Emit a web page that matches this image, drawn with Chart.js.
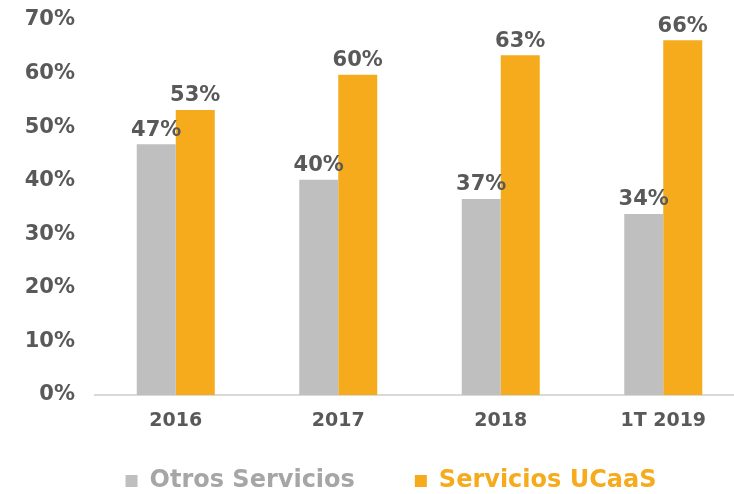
<!DOCTYPE html>
<html>
<head>
<meta charset="utf-8">
<script src="https://cdn.jsdelivr.net/npm/chart.js@4.4.1/dist/chart.umd.min.js"></script>
<style>
  html, body { margin: 0; padding: 0; background: #fff; overflow: hidden; }
  canvas { display: block; }
</style>
</head>
<body>
<canvas id="myChart" width="782" height="494"></canvas>
<script>
// data
const categories = ['2016', '2017', '2018', '1T 2019'];
const otros = [46.8, 40.2, 36.6, 33.8];
const ucaas = [53.2, 59.8, 63.4, 66.2];
const yTicks = [0, 10, 20, 30, 40, 50, 60, 70];

const GREY = '#BFBFBF';
const ORANGE = '#F5AB1C';
const TEXT = '#595959';
const FONT = "'DejaVu Sans', Verdana, sans-serif";

// value labels above the bars + legend nudge
const barLabels = {
  id: 'barLabels',
  afterLayout(chart) {
    // legend sits a bit higher than the layout puts it, x labels need room
    const lg = chart.legend;
    if (lg) {
      const h = lg.bottom - lg.top;
      lg.top = 409;
      lg.bottom = 409 + h;
    }
    chart.scales.x.bottom = 445;
  },
  afterDatasetsDraw(chart) {
    const ctx = chart.ctx;
    ctx.save();
    ctx.font = 'bold 21px ' + FONT;
    ctx.fillStyle = TEXT;
    ctx.textAlign = 'center';
    ctx.textBaseline = 'middle';
    chart.data.datasets.forEach((ds, i) => {
      chart.getDatasetMeta(i).data.forEach((bar, j) => {
        ctx.fillText(Math.round(ds.data[j]) + '%', bar.x, bar.y - 14);
      });
    });
    ctx.restore();
  }
};

const ctx = document.getElementById('myChart');
const myChart = new Chart(ctx, {
  type: 'bar',
  data: {
    labels: categories,
    datasets: [
      { label: 'Otros Servicios', data: otros, backgroundColor: GREY, legendText: '#A6A6A6' },
      { label: 'Servicios UCaaS', data: ucaas, backgroundColor: ORANGE, legendText: ORANGE }
    ]
  },
  options: {
    responsive: false,
    animation: false,
    devicePixelRatio: 1,
    layout: { padding: { left: 0, right: 0, top: 20, bottom: 0 } },
    datasets: {
      bar: { categoryPercentage: 0.48, barPercentage: 1 }
    },
    scales: {
      x: {
        grid: { display: false, drawTicks: false },
        border: { display: true, color: '#D9D9D9', width: 2 },
        ticks: { color: TEXT, font: { family: FONT, size: 19, weight: 'bold' }, padding: 14.6 },
        afterFit(scale) { scale.height = 5; }
      },
      y: {
        min: 0,
        max: 70,
        grid: { display: false, drawTicks: false },
        border: { display: false },
        afterBuildTicks(scale) { scale.ticks = yTicks.map(v => ({ value: v })); },
        ticks: {
          color: TEXT,
          font: { family: FONT, size: 21, weight: 'bold' },
          padding: 19.5,
          callback: v => v + '%'
        },
        afterFit(scale) {
          scale.width = 94.5;
          scale.paddingTop = 0;
          scale.paddingBottom = 0;
        }
      },
      yRight: {
        position: 'right',
        grid: { display: false, drawTicks: false },
        border: { display: false },
        ticks: { display: false },
        afterFit(scale) { scale.width = 37.5; }
      }
    },
    plugins: {
      tooltip: { enabled: false },
      legend: {
        position: 'bottom',
        labels: {
          boxWidth: 12,
          boxHeight: 12,
          padding: 60,
          font: { family: FONT, size: 24, weight: 'bold' },
          generateLabels(chart) {
            const items = Chart.defaults.plugins.legend.labels.generateLabels(chart);
            items.forEach(it => {
              it.fontColor = chart.data.datasets[it.datasetIndex].legendText;
              it.lineWidth = 0;
            });
            return items;
          }
        }
      }
    }
  },
  plugins: [barLabels]
});
</script>
</body>
</html>
